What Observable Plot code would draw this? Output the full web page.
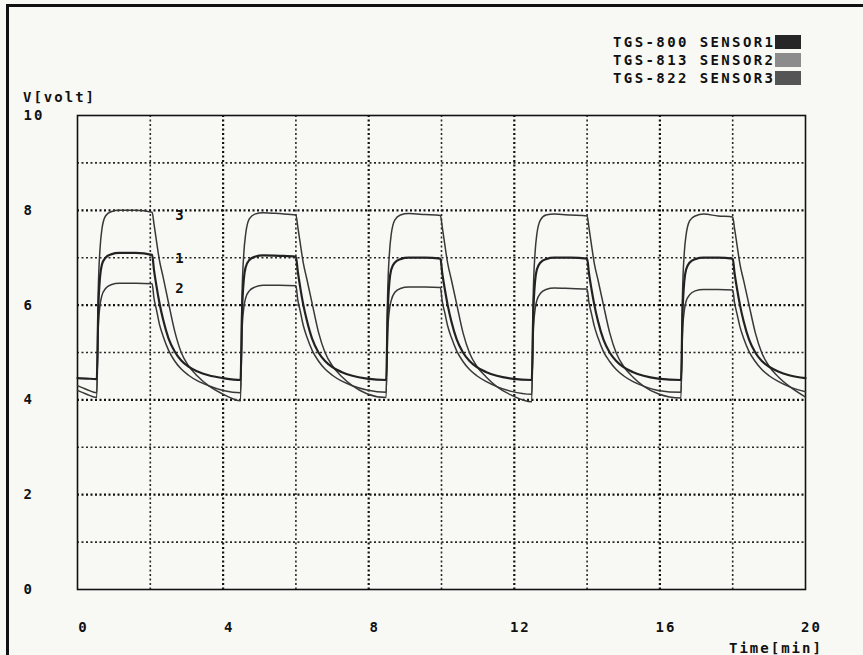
<!DOCTYPE html>
<html>
<head>
<meta charset="utf-8">
<script src="https://cdn.jsdelivr.net/npm/d3@7"></script>
<script src="https://cdn.jsdelivr.net/npm/@observablehq/plot@0.6"></script>
<style>
  body { margin: 0; background: #f8f8f5; }
  #wrap { position: relative; width: 863px; height: 655px; overflow: hidden; background: #f8f8f5; }
  .pix { font-family: "DejaVu Sans Mono", monospace; font-weight: bold; font-size: 14px; letter-spacing: 2px; color: #111; position: absolute; white-space: nowrap; }
  #borderL { position: absolute; left: 6px; top: 4px; width: 3px; height: 660px; background: #111; }
  #borderT { position: absolute; left: 6px; top: 4px; width: 860px; height: 3px; background: #111; }
  .legrow { position: absolute; left: 613px; height: 16px; display: flex; align-items: center; }
  .sw { display: inline-block; width: 26px; height: 14px; margin-left: 0px; }
  #chart { position: absolute; left: 0; top: 0; }
</style>
</head>
<body>
<div id="wrap">
  <div id="borderL"></div>
  <div id="borderT"></div>
  <div id="legend"></div>
  <div class="pix" style="left:23px; top:89px;">V[volt]</div>
  <div class="pix" style="left:729px; top:640px;">Time[min]</div>
  <div id="chart"></div>
</div>
<script>
// ---- data ----
const legendLabels = ["TGS-800 SENSOR1", "TGS-813 SENSOR2", "TGS-822 SENSOR3"];
const legendColors = ["#262626", "#8c8c8c", "#555555"];

const xTickLabels = [0, 4, 8, 12, 16, 20];
const yTickLabels = [0, 2, 4, 6, 8, 10];
const xGridMajor = [4, 8, 12, 16];
const xGridMinor = [2, 6, 10, 14, 18];
const yGridMajor = [2, 4, 6, 8];
const yGridMinor = [1, 3, 5, 7, 9];

const time = [
  0, 0.25, 0.53,
  0.57, 0.62, 0.67, 0.77, 0.92, 1.15, 1.60,
  2.05, 2.10, 2.17, 2.25, 2.35, 2.50, 2.67, 2.85, 3.05, 3.30, 3.60, 4.00, 4.48,
  4.52, 4.57, 4.62, 4.72, 4.87, 5.10, 5.55,
  6.00, 6.05, 6.12, 6.20, 6.30, 6.45, 6.62, 6.80, 7.00, 7.25, 7.55, 7.95, 8.48,
  8.52, 8.57, 8.62, 8.72, 8.87, 9.10, 9.55,
  9.97, 10.02, 10.09, 10.17, 10.27, 10.42, 10.59, 10.77, 10.97, 11.22, 11.52, 11.92, 12.48,
  12.52, 12.57, 12.62, 12.72, 12.87, 13.10, 13.55,
  14.00, 14.05, 14.12, 14.20, 14.30, 14.45, 14.62, 14.80, 15.00, 15.25, 15.55, 15.95, 16.58,
  16.62, 16.67, 16.72, 16.82, 16.97, 17.20, 17.60,
  18.00, 18.05, 18.12, 18.20, 18.30, 18.45, 18.62, 18.80, 19.00, 19.25, 19.55, 20.00
];

const sensor1 = [
  4.46, 4.45, 4.44,
  5.9, 6.6, 6.85, 7.0, 7.07, 7.1, 7.1,
  7.06, 6.75, 6.4, 6.05, 5.7, 5.3, 5.02, 4.83, 4.7, 4.6, 4.52, 4.46, 4.42,
  5.85, 6.55, 6.8, 6.95, 7.02, 7.05, 7.04,
  7.02, 6.72, 6.37, 6.02, 5.68, 5.28, 5.0, 4.82, 4.69, 4.59, 4.51, 4.45, 4.42,
  5.8, 6.5, 6.75, 6.9, 6.97, 7.0, 7.0,
  6.98, 6.68, 6.34, 6.0, 5.66, 5.27, 5.0, 4.82, 4.69, 4.59, 4.51, 4.45, 4.42,
  5.8, 6.5, 6.75, 6.9, 6.97, 7.0, 7.0,
  6.98, 6.68, 6.34, 6.0, 5.66, 5.27, 5.0, 4.82, 4.69, 4.59, 4.51, 4.45, 4.42,
  5.8, 6.5, 6.75, 6.9, 6.97, 7.0, 7.0,
  6.98, 6.68, 6.34, 6.0, 5.66, 5.27, 5.0, 4.82, 4.7, 4.6, 4.52, 4.46
];

const sensor2 = [
  4.3, 4.22, 4.15,
  5.5, 6.0, 6.2, 6.35, 6.43, 6.46, 6.46,
  6.45, 6.15, 5.9, 5.6, 5.35, 5.05, 4.82, 4.65, 4.52, 4.4, 4.3, 4.2, 4.15,
  5.45, 5.95, 6.15, 6.3, 6.38, 6.42, 6.42,
  6.41, 6.12, 5.87, 5.58, 5.33, 5.04, 4.82, 4.65, 4.52, 4.4, 4.3, 4.21, 4.16,
  5.4, 5.9, 6.1, 6.27, 6.35, 6.38, 6.38,
  6.37, 6.08, 5.84, 5.56, 5.32, 5.03, 4.81, 4.64, 4.51, 4.39, 4.28, 4.18, 4.12,
  5.4, 5.9, 6.1, 6.25, 6.33, 6.36, 6.35,
  6.34, 6.06, 5.82, 5.55, 5.31, 5.02, 4.81, 4.64, 4.51, 4.39, 4.29, 4.2, 4.16,
  5.4, 5.88, 6.08, 6.22, 6.3, 6.33, 6.33,
  6.32, 6.05, 5.81, 5.54, 5.3, 5.02, 4.81, 4.64, 4.51, 4.39, 4.28, 4.17
];

const sensor3 = [
  4.2, 4.12, 4.05,
  6.3, 7.2, 7.6, 7.88, 7.97, 8.0, 8.0,
  7.96, 7.72, 7.35, 6.95, 6.6, 6.05, 5.45, 5.0, 4.72, 4.5, 4.3, 4.12, 3.98,
  6.2, 7.1, 7.5, 7.82, 7.92, 7.95, 7.93,
  7.9, 7.66, 7.3, 6.9, 6.55, 6.02, 5.43, 5.0, 4.72, 4.5, 4.3, 4.13, 4.05,
  6.2, 7.1, 7.5, 7.8, 7.9, 7.93, 7.91,
  7.89, 7.65, 7.28, 6.88, 6.54, 6.01, 5.42, 4.99, 4.71, 4.49, 4.28, 4.1, 3.96,
  6.2, 7.1, 7.5, 7.8, 7.9, 7.92, 7.9,
  7.88, 7.64, 7.27, 6.87, 6.53, 6.0, 5.42, 4.99, 4.71, 4.49, 4.29, 4.13, 4.04,
  6.2, 7.1, 7.48, 7.78, 7.88, 7.92, 7.88,
  7.86, 7.62, 7.26, 6.86, 6.52, 6.0, 5.42, 4.99, 4.71, 4.49, 4.29, 4.06
];

const curveLabels = ["3", "1", "2"];
const curveLabelT = [2.83, 2.83, 2.83];
const curveLabelV = [7.9, 6.99, 6.36];

// ---- build ----
const s1 = time.map((t, i) => ({t, v: sensor1[i]}));
const s2 = time.map((t, i) => ({t, v: sensor2[i]}));
const s3 = time.map((t, i) => ({t, v: sensor3[i]}));
const lbls = curveLabels.map((s, i) => ({s, t: curveLabelT[i], v: curveLabelV[i]}));

const legend = document.getElementById("legend");
legendLabels.forEach((lab, i) => {
  const row = document.createElement("div");
  row.className = "legrow";
  row.style.top = (34 + i * 18) + "px";
  const tx = document.createElement("span");
  tx.className = "pix";
  tx.style.position = "static";
  tx.style.letterSpacing = "2.4px";
  tx.textContent = lab;
  const sw = document.createElement("span");
  sw.className = "sw";
  sw.style.background = legendColors[i];
  row.appendChild(tx);
  row.appendChild(sw);
  legend.appendChild(row);
});

const dot = "2,2.5";
const chart = Plot.plot({
  width: 863,
  height: 655,
  marginLeft: 77,
  marginRight: 58,
  marginTop: 115,
  marginBottom: 66,
  x: {domain: [0, 20]},
  y: {domain: [0, 10]},
  style: {
    background: "transparent",
    fontFamily: "'DejaVu Sans Mono', monospace",
    fontWeight: "bold",
    fontSize: "14px",
    letterSpacing: "2px",
    color: "#111"
  },
  marks: [
    Plot.ruleX(xGridMinor, {stroke: "#111", strokeWidth: 1.6, strokeDasharray: dot, strokeOpacity: 0.9}),
    Plot.ruleX(xGridMajor, {stroke: "#111", strokeWidth: 2.2, strokeDasharray: dot}),
    Plot.ruleY(yGridMinor, {stroke: "#111", strokeWidth: 1.6, strokeDasharray: dot, strokeOpacity: 0.9}),
    Plot.ruleY(yGridMajor, {stroke: "#111", strokeWidth: 2.2, strokeDasharray: dot}),
    Plot.frame({stroke: "#111", strokeWidth: 1.6}),
    Plot.line(s2, {x: "t", y: "v", stroke: "#383838", strokeWidth: 1.5, curve: "monotone-x"}),
    Plot.line(s3, {x: "t", y: "v", stroke: "#383838", strokeWidth: 1.5, curve: "monotone-x"}),
    Plot.line(s1, {x: "t", y: "v", stroke: "#222", strokeWidth: 2.2, curve: "monotone-x"}),
    Plot.text(lbls, {x: "t", y: "v", text: "s", fill: "#111", fontSize: 14, fontWeight: "bold"}),
    Plot.axisX({ticks: xTickLabels, tickSize: 0, tickPadding: 33, label: null, dx: 6, fontWeight: "bold"}),
    Plot.axisY({ticks: yTickLabels, tickSize: 0, tickPadding: 54, textAnchor: "start", label: null, fontWeight: "bold"})
  ]
});
document.getElementById("chart").appendChild(chart);
</script>
</body>
</html>
